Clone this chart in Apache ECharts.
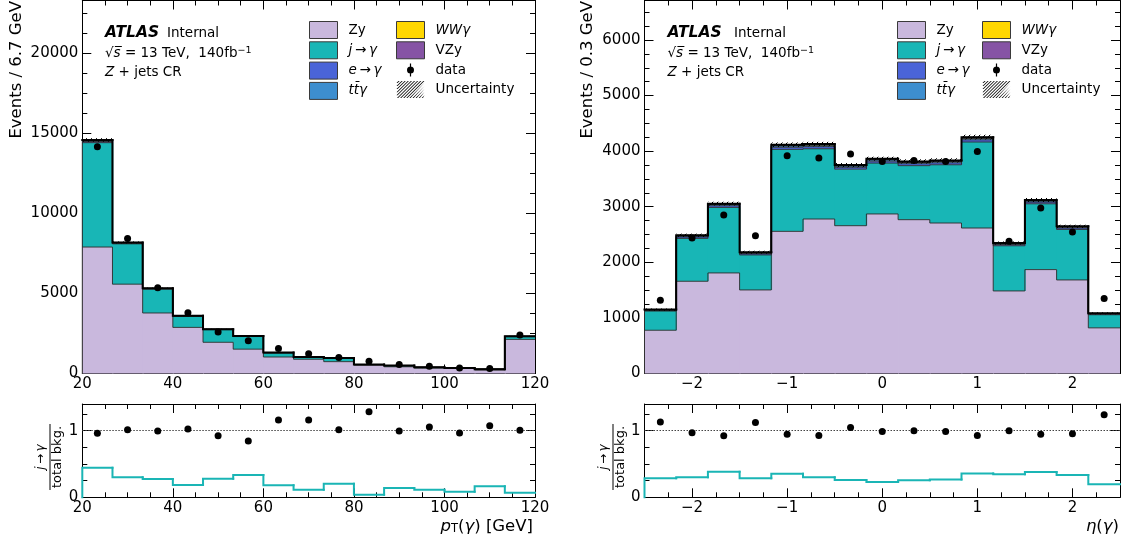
<!DOCTYPE html>
<html><head><meta charset="utf-8">
<script src="https://cdn.jsdelivr.net/npm/echarts@6/dist/echarts.min.js"></script>
<style>html,body{margin:0;padding:0;background:#fff}#c{width:1123px;height:544px}</style>
</head><body><div id="c"></div>
<script>
// ---------------- data: pT(gamma) ----------------
const ptEdges   = [20, 26.667, 33.333, 40, 46.667, 53.333, 60, 66.667, 73.333, 80, 86.667, 93.333, 100, 106.667, 113.333, 120];
const ptZy      = [7900, 5580, 3780, 2880, 1950, 1520, 1030, 890, 740, 530, 420, 335, 315, 220, 2130];
const ptJetFake = [6520, 2520, 1490, 690, 790, 790, 260, 135, 220, 22, 70, 45, 30, 45, 170];
const ptEleFake = [70, 35, 22, 15, 12, 10, 6, 5, 4, 3, 2, 2, 2, 2, 10];
const ptTTG     = [45, 25, 16, 12, 9, 8, 5, 4, 3, 2, 2, 2, 1, 1, 8];
const ptWWG     = [15, 8, 5, 4, 3, 3, 2, 1, 1, 1, 1, 1, 1, 1, 3];
const ptVZy     = [40, 20, 12, 8, 6, 5, 3, 3, 2, 2, 1, 1, 1, 1, 6];
const ptUnc     = [110, 60, 40, 30, 25, 22, 15, 12, 12, 10, 9, 8, 8, 7, 25];
const ptData    = [14160, 8440, 5350, 3790, 2600, 2040, 1560, 1230, 1000, 770, 560, 450, 350, 310, 2400];
const ptRatio   = [0.96, 1.015, 0.995, 1.025, 0.925, 0.845, 1.16, 1.16, 1.015, 1.285, 0.995, 1.055, 0.965, 1.075, 1.005];
const ptJetFrac = [0.445, 0.30, 0.275, 0.185, 0.28, 0.335, 0.18, 0.115, 0.205, 0.04, 0.14, 0.115, 0.085, 0.165, 0.07];

// ---------------- data: eta(gamma) ----------------
const etaEdges   = [-2.5, -2.1667, -1.8333, -1.5, -1.1667, -0.8333, -0.5, -0.1667, 0.1667, 0.5, 0.8333, 1.1667, 1.5, 1.8333, 2.1667, 2.5];
const etaZy      = [778, 1659, 1809, 1503, 2557, 2779, 2659, 2870, 2767, 2707, 2617, 1485, 1869, 1683, 821];
const etaJetFake = [345, 772, 1179, 630, 1475, 1264, 1017, 915, 972, 1048, 1547, 813, 1184, 909, 236];
const etaEleFake = [12, 25, 30, 22, 38, 38, 34, 35, 35, 35, 40, 22, 30, 25, 12];
const etaTTG     = [8, 16, 20, 14, 24, 25, 22, 23, 22, 23, 26, 14, 20, 16, 7];
const etaWWG     = [2, 4, 5, 3, 6, 6, 5, 6, 5, 6, 6, 4, 5, 4, 2];
const etaVZy     = [5, 10, 12, 8, 15, 15, 13, 14, 14, 14, 16, 9, 12, 10, 5];
const etaUnc     = [20, 30, 35, 28, 40, 40, 38, 38, 38, 38, 42, 28, 35, 30, 18];
const etaData    = [1317, 2438, 2851, 2480, 3917, 3876, 3948, 3815, 3833, 3815, 3995, 2378, 2976, 2545, 1348];
const etaRatio   = [1.13, 0.967, 0.923, 1.124, 0.947, 0.928, 1.048, 0.986, 1.0, 0.986, 0.928, 1.0, 0.947, 0.952, 1.239];
const etaJetFrac = [0.287, 0.30, 0.383, 0.287, 0.354, 0.30, 0.258, 0.23, 0.254, 0.268, 0.359, 0.344, 0.378, 0.335, 0.196];

// ---------------- ticks ----------------
const ptXTicks    = [20, 40, 60, 80, 100, 120];
const ptYTicks    = [0, 5000, 10000, 15000, 20000];
const etaXTicks   = [-2, -1, 0, 1, 2];
const etaYTicks   = [0, 1000, 2000, 3000, 4000, 5000, 6000];
const ratioYTicks = [0, 1];

const layerNames  = ['Zy', 'j→γ', 'e→γ', 'tt̄γ', 'WWγ', 'VZy'];
const layerColors = ['#c9b8dd', '#18b6b6', '#4a64d8', '#3d8ecf', '#ffd700', '#8654a5'];

const F = 'DejaVu Sans';
const grids = [], xAxis = [], yAxis = [], series = [];

function fmtNum(v) { const r = Math.round(v * 1000) / 1000; return r < 0 ? '\u2212' + Math.abs(r) : String(r); }

function addPanel(rect, xr, xMajor, xStep, yr, yMajor, yStep) {
  const gA = grids.length, gB = gA + 1;
  grids.push(Object.assign({}, rect), Object.assign({}, rect));
  const xi = xAxis.length, yi = yAxis.length;
  const mk = (g, pos, r, major, labels, margin) => ({
    type: 'value', gridIndex: g, position: pos, min: r[0], max: r[1],
    axisLine: { show: true, onZero: false, lineStyle: { color: '#000', width: 1 } },
    axisTick: { show: true, inside: true, length: 9, customValues: major, lineStyle: { color: '#000', width: 1 } },
    axisLabel: { show: labels, customValues: major, margin: margin, formatter: fmtNum,
                 fontFamily: F, fontSize: 15, color: '#000' },
    splitLine: { show: false }
  });
  const mn = (g, pos, r, step) => ({
    type: 'value', gridIndex: g, position: pos, min: r[0], max: r[1], interval: step,
    axisLine: { show: false, onZero: false },
    axisTick: { show: true, inside: true, length: 5, lineStyle: { color: '#000', width: 1 } },
    axisLabel: { show: false }, splitLine: { show: false }
  });
  xAxis.push(mk(gA, 'bottom', xr, xMajor, true, 3), mk(gA, 'top', xr, xMajor, false, 3),
             mn(gB, 'bottom', xr, xStep), mn(gB, 'top', xr, xStep));
  yAxis.push(mk(gA, 'left', yr, yMajor, true, 4), mk(gA, 'right', yr, yMajor, false, 4),
             mn(gB, 'left', yr, yStep), mn(gB, 'right', yr, yStep));
  return { xi, yi };
}

function layerSeries(name, color, ax, edges, lows, highs) {
  const data = highs.map((h, i) => [edges[i], edges[i + 1], lows[i], h, i > 0 ? highs[i - 1] : lows[i], i === highs.length - 1 ? 1 : 0]);
  return {
    type: 'custom', name, xAxisIndex: ax.xi, yAxisIndex: ax.yi, z: 2, silent: true,
    encode: { x: [0, 1], y: [2, 3] }, data,
    renderItem(params, api) {
      const x0 = api.value(0), x1 = api.value(1), lo = api.value(2), hi = api.value(3), pv = api.value(4), last = api.value(5);
      const a = api.coord([x0, lo]), b = api.coord([x1, hi]), c = api.coord([x0, pv]);
      return { type: 'group', children: [
        { type: 'rect', z2: 0, shape: { x: a[0], y: b[1], width: b[0] - a[0] + (last ? 0 : 0.8), height: a[1] - b[1] }, style: { fill: color } },
        { type: 'polyline', z2: 4, shape: { points: [[c[0], c[1]], [a[0], b[1]], [b[0], b[1]]] }, style: { stroke: '#2b2b2b', lineWidth: 0.9, fill: null } }
      ] };
    }
  };
}

function stepLine(name, ax, edges, vals, color, width, z2, firstFromZero) {
  const data = vals.map((v, i) => [edges[i], edges[i + 1], v, i > 0 ? vals[i - 1] : (firstFromZero ? 0 : v)]);
  return {
    type: 'custom', name, xAxisIndex: ax.xi, yAxisIndex: ax.yi, z: 3, silent: true,
    encode: { x: [0, 1], y: 2 }, data,
    renderItem(params, api) {
      const x0 = api.value(0), x1 = api.value(1), v = api.value(2), pv = api.value(3);
      const p = api.coord([x0, pv]), a = api.coord([x0, v]), b = api.coord([x1, v]);
      return { type: 'polyline', z2, shape: { points: [p, a, b] }, style: { stroke: color, lineWidth: width, fill: null, lineCap: 'square' } };
    }
  };
}

const hatchCanvas = (function () {
  const c = document.createElement('canvas'); c.width = 5; c.height = 5;
  const g = c.getContext('2d'); g.strokeStyle = '#000'; g.lineWidth = 1;
  g.beginPath(); g.moveTo(-1, 6); g.lineTo(6, -1); g.stroke();
  return c;
})();

function uncSeries(ax, edges, totals, unc) {
  const data = totals.map((t, i) => [edges[i], edges[i + 1], t - unc[i], t + unc[i]]);
  return {
    type: 'custom', name: 'Uncertainty', xAxisIndex: ax.xi, yAxisIndex: ax.yi, z: 3, silent: true,
    encode: { x: [0, 1], y: [2, 3] }, data,
    renderItem(params, api) {
      const a = api.coord([api.value(0), api.value(2)]), b = api.coord([api.value(1), api.value(3)]);
      return { type: 'rect', z2: 5, shape: { x: a[0], y: b[1], width: b[0] - a[0], height: a[1] - b[1] },
               style: { fill: { image: hatchCanvas, repeat: 'repeat' } } };
    }
  };
}

function centers(edges) { return edges.slice(0, -1).map((e, i) => (e + edges[i + 1]) / 2); }

function buildMain(ax, edges, layers, unc, dataVals) {
  let lows = layers[0].map(() => 0);
  layers.forEach((vals, k) => {
    const highs = vals.map((v, i) => lows[i] + v);
    series.push(layerSeries(layerNames[k], layerColors[k], ax, edges, lows, highs));
    lows = highs;
  });
  series.push(uncSeries(ax, edges, lows, unc));
  series.push(stepLine('total', ax, edges, lows, '#000', 2, 6, false));
  series.push({ type: 'scatter', name: 'data', xAxisIndex: ax.xi, yAxisIndex: ax.yi, z: 5, silent: true,
    symbol: 'circle', symbolSize: 7, itemStyle: { color: '#000', opacity: 1 },
    data: centers(edges).map((c, i) => [c, dataVals[i]]) });
}

function buildRatio(ax, edges, ratio, frac) {
  series.push(stepLine('jfrac', ax, edges, frac, '#1ab5b5', 2, 3, true));
  series.push({ type: 'scatter', name: 'ratio', xAxisIndex: ax.xi, yAxisIndex: ax.yi, z: 5, silent: true,
    symbol: 'circle', symbolSize: 7, itemStyle: { color: '#000', opacity: 1 },
    data: centers(edges).map((c, i) => [c, ratio[i]]),
    markLine: { silent: true, symbol: 'none', label: { show: false }, animation: false,
      lineStyle: { type: [1.5, 1.5], color: '#444', width: 1 }, data: [{ yAxis: 1 }] } });
}

// ---------------- panels ----------------
const axPtMain  = addPanel({ left: 82.3, top: 0.5, width: 452.7, height: 373 }, [20, 120], ptXTicks, 5, [0, 23300], ptYTicks, 1250);
const axPtRatio = addPanel({ left: 82.3, top: 404, width: 452.7, height: 93.3 }, [20, 120], ptXTicks, 5, [0, 1.4], ratioYTicks, 0.25);
const axEtMain  = addPanel({ left: 644.5, top: 0.5, width: 475.5, height: 373 }, [-2.5, 2.5], etaXTicks, 0.25, [0, 6710], etaYTicks, 250);
const axEtRatio = addPanel({ left: 644.5, top: 404, width: 475.5, height: 93.3 }, [-2.5, 2.5], etaXTicks, 0.25, [0, 1.4], ratioYTicks, 0.25);

buildMain(axPtMain, ptEdges, [ptZy, ptJetFake, ptEleFake, ptTTG, ptWWG, ptVZy], ptUnc, ptData);
buildRatio(axPtRatio, ptEdges, ptRatio, ptJetFrac);
buildMain(axEtMain, etaEdges, [etaZy, etaJetFake, etaEleFake, etaTTG, etaWWG, etaVZy], etaUnc, etaData);
buildRatio(axEtRatio, etaEdges, etaRatio, etaJetFrac);

// ---------------- legend ----------------
const dataIcon = 'path://M0,0 M28,17 M13.4,2 L14.6,2 L14.6,15 L13.4,15 Z M17.5,8.5 A3.5,3.5 0 1,1 10.5,8.5 A3.5,3.5 0 1,1 17.5,8.5 Z';
const hatchIcon = (function () {
  let d = 'M0,0 M28,17';
  for (let a = -15; a <= 28; a += 3.1) {
    const yTop = Math.max(0, a - 11), yBot = Math.min(17, a + 17);
    if (yBot <= yTop) continue;
    const xTop = a + 17 - yTop, xBot = a + 17 - yBot, w = 1.1;
    d += ' M' + xBot.toFixed(2) + ',' + yBot.toFixed(2) + ' L' + Math.min(28, xBot + w).toFixed(2) + ',' + yBot.toFixed(2) +
         ' L' + Math.min(28, xTop + w).toFixed(2) + ',' + yTop.toFixed(2) + ' L' + xTop.toFixed(2) + ',' + yTop.toFixed(2) + ' Z';
  }
  return 'path://' + d;
})();
const legendText = {
  'Zy': 'Zy', 'j→γ': '{i|j}\u2009→\u2009{i|γ}', 'e→γ': '{i|e}\u2009→\u2009{i|γ}', 'tt̄γ': '{i|tt̄γ}',
  'WWγ': '{i|WWγ}', 'VZy': 'VZy', 'data': 'data', 'Uncertainty': 'Uncertainty'
};
function legendItem(n) {
  const k = layerNames.indexOf(n);
  if (k >= 0) return { name: n, icon: 'rect', itemStyle: { color: layerColors[k], borderColor: '#3a3a3a', borderWidth: 1 } };
  if (n === 'data') return { name: n, icon: dataIcon, itemStyle: { color: '#000', borderWidth: 0 } };
  return { name: n, icon: hatchIcon, itemStyle: { color: '#000', borderWidth: 0 } };
}
function legendCol(left, names) {
  return {
    left, top: 21, orient: 'vertical', itemWidth: 28, itemHeight: 17, itemGap: 2.3, padding: 0,
    selectedMode: false, data: names.map(legendItem),
    formatter: n => legendText[n],
    textStyle: { fontFamily: F, fontSize: 13.5, color: '#000', padding: [0, 0, 0, 6],
      rich: { i: { fontFamily: F, fontSize: 13.5, fontStyle: 'italic', color: '#000' } } }
  };
}
const col1 = ['Zy', 'j→γ', 'e→γ', 'tt̄γ'], col2 = ['WWγ', 'VZy', 'data', 'Uncertainty'];

// ---------------- text ----------------
const richBase = {
  n: { fontFamily: F, fontSize: 13.5, fill: '#000' },
  i: { fontFamily: F, fontSize: 13.5, fontStyle: 'italic', fill: '#000' },
  s: { fontFamily: F, fontSize: 9.5, fill: '#000', verticalAlign: 'top', lineHeight: 12 }
};
function txt(x, y, text, extra) {
  return { type: 'text', x, y, silent: true,
    style: Object.assign({ text, fontFamily: F, fontSize: 13.5, fill: '#000', align: 'left', verticalAlign: 'middle' }, extra || {}) };
}
function atlasBlock(x0, xInt) {
  return [
    txt(x0, 33, 'ATLAS', { fontSize: 15.5, fontWeight: 'bold', fontStyle: 'italic' }),
    txt(xInt, 33, 'Internal'),
    txt(x0, 53, '{n|√}{i|s\u0305}{n| = 13 TeV,  140fb}{s|−1}', { rich: richBase }),
    txt(x0, 72, '{i|Z}{n| + jets CR}', { rich: richBase })
  ];
}
function ratioLabel(x, y) {
  return { type: 'group', x, y, rotation: Math.PI / 2, silent: true, children: [
    { type: 'text', x: 0, y: -9.5, style: { text: '{i|j}\u2009→\u2009{i|γ}', align: 'center', verticalAlign: 'middle',
      rich: { i: { fontFamily: F, fontSize: 12, fontStyle: 'italic', fill: '#000' } }, fontFamily: F, fontSize: 12, fill: '#000' } },
    { type: 'line', shape: { x1: -33, y1: 0, x2: 33, y2: 0 }, style: { stroke: '#000', lineWidth: 1 } },
    { type: 'text', x: 0, y: 7.5, style: { text: 'total bkg.', align: 'center', verticalAlign: 'middle', fontFamily: F, fontSize: 13, fill: '#000' } }
  ] };
}
const richAxis = {
  n: { fontFamily: F, fontSize: 16.5, fill: '#000' },
  i: { fontFamily: F, fontSize: 16.5, fontStyle: 'italic', fill: '#000' },
  sub: { fontFamily: F, fontSize: 11.5, fill: '#000', verticalAlign: 'bottom', lineHeight: 14 }
};
const graphics = [].concat(
  atlasBlock(105, 167), atlasBlock(667.5, 734),
  [
    { type: 'text', x: 17, y: 1, rotation: Math.PI / 2, silent: true,
      style: { text: 'Events / 6.7 GeV', fontFamily: F, fontSize: 16.5, fill: '#000', align: 'right', verticalAlign: 'middle' } },
    { type: 'text', x: 588, y: 1, rotation: Math.PI / 2, silent: true,
      style: { text: 'Events / 0.3 GeV', fontFamily: F, fontSize: 16.5, fill: '#000', align: 'right', verticalAlign: 'middle' } },
    ratioLabel(50, 457), ratioLabel(613, 457),
    txt(533, 527, '{i|p}{sub|T}{n|(}{i|γ}{n|) [GeV]}', { align: 'right', rich: richAxis }),
    txt(1119, 527, '{i|η}{n|(}{i|γ}{n|)}', { align: 'right', rich: richAxis })
  ]
);

const chart = echarts.init(document.getElementById('c'), null, { renderer: 'canvas' });
chart.setOption({
  animation: false,
  backgroundColor: '#fff',
  textStyle: { fontFamily: F },
  grid: grids, xAxis, yAxis, series,
  legend: [legendCol(309, col1), legendCol(396, col2), legendCol(897, col1), legendCol(982, col2)],
  graphic: graphics
});
</script></body></html>
